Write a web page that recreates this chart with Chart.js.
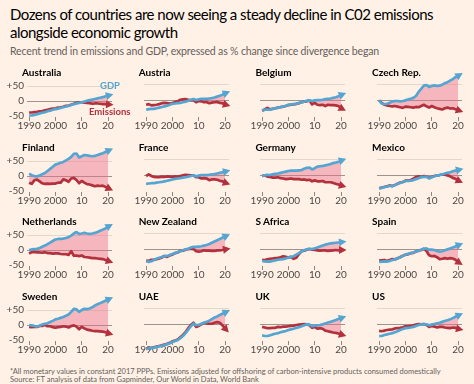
<!DOCTYPE html>
<html>
<head>
<meta charset="utf-8">
<script src="https://cdn.jsdelivr.net/npm/chart.js@4.4.0/dist/chart.umd.min.js"></script>
<style>
  body { margin:0; width:474px; height:384px; background:#fff1e5; position:relative; overflow:hidden;
         font-family: Lato, "Liberation Sans", sans-serif; color:#33302e; }
  .title { position:absolute; left:10px; top:5px; font-size:15px; line-height:18px; color:#000; letter-spacing:-0.5px; }
  .sub { position:absolute; left:10px; top:44.5px; font-size:10.5px; line-height:13px; color:#66605c; letter-spacing:-0.15px; }
  .panel { position:absolute; width:117px; height:75px; }
  .panel canvas { position:absolute; left:0; top:0; }
  .name { position:absolute; left:22px; top:4px; font-size:10px; font-weight:bold; line-height:12px; color:#000; white-space:nowrap; }
  .lab { position:absolute; font-size:9.5px; font-weight:bold; line-height:11px; white-space:nowrap; }
  .foot { position:absolute; left:10px; top:368px; font-size:7.5px; line-height:8px; color:#66605c; white-space:nowrap; }
</style>
</head>
<body>
<div class="title">Dozens of countries are now seeing a steady decline in C02 emissions<br>alongside economic growth</div>
<div class="sub">Recent trend in emissions and GDP, expressed as % change since divergence began</div>
<div id="grid"></div>
<div class="foot">*All monetary values in constant 2017 PPPs. Emissions adjusted for offshoring of carbon-intensive products consumed domestically<br>Source: FT analysis of data from Gapminder, Our World in Data, World Bank</div>
<script>
// anos 1990-2020
const years = [1990, 1991, 1992, 1993, 1994, 1995, 1996, 1997, 1998, 1999, 2000, 2001, 2002, 2003, 2004,
  2005, 2006, 2007, 2008, 2009, 2010, 2011, 2012, 2013, 2014, 2015, 2016, 2017, 2018, 2019, 2020];
const xTicks = [1990, 2000, 2010, 2020];
const xTickLabels = ["1990", "2000", "10", "20"];
const yTicks = [-50, 0, 50];
const yTickLabels = ["-50", "0", "+50"];

const countries = ["Australia", "Austria", "Belgium", "Czech Rep.", "Finland", "France", "Germany", "Mexico",
  "Netherlands", "New Zealand", "S Africa", "Spain", "Sweden", "UAE", "UK", "US"];

// % change, GDP
const ausGdp = [-48,-48,-46,-44,-41,-39,-37,-34,-32,-29,-27,-25,-23,-20,-18,-16,-13,-10,-8,-6,-4,-2,1,3,5,7,9,11,13,16,18];
const autGdp = [-30,-28,-27,-27,-25,-23,-21,-19,-17,-14,-11,-10,-9,-8,-6,-4,-1,2,4,1,3,5,5,5,6,7,9,12,15,18,22];
const belGdp = [-32,-30,-29,-30,-27,-25,-24,-21,-20,-17,-14,-13,-12,-11,-8,-6,-4,-1,0,-2,0,1,1,2,4,5,6,8,10,13,17];
const czeGdp = [0,-10,-12,-11,-8,-4,-2,-2,-3,-2,0,3,5,8,14,27,37,47,49,43,46,48,46,47,50,55,58,63,68,74,78];
const finGdp = [8,3,0,-1,2,6,10,17,24,31,38,41,44,47,52,57,64,74,75,62,66,70,69,67,66,67,70,73,76,80,84];
const fraGdp = [-27,-26,-25,-25,-23,-22,-21,-19,-17,-15,-13,-11,-10,-9,-7,-6,-4,-2,0,-3,-1,1,1,1,2,3,4,6,8,10,12];
const deuGdp = [-2,0,2,1,3,5,6,8,10,12,14,15,15,15,16,17,21,24,25,19,23,28,29,30,32,34,36,39,41,43,47];
const mexGdp = [-42,-40,-37,-36,-33,-35,-31,-27,-24,-21,-18,-18,-17,-15,-12,-9,-6,-5,-4,-10,-6,-3,0,1,3,6,8,10,13,15,17];
const nldGdp = [0,2,3,4,7,11,15,20,25,30,35,37,37,38,40,43,48,55,60,54,55,57,55,54,55,57,60,64,68,72,78];
const nzlGdp = [-38,-40,-38,-34,-30,-27,-24,-22,-21,-18,-15,-12,-9,-6,-3,0,2,6,8,8,9,10,12,14,17,21,25,29,33,37,41];
const zafGdp = [-37,-38,-39,-39,-37,-35,-33,-32,-31,-29,-26,-24,-22,-17,-12,-7,-3,0,2,1,3,6,9,12,15,17,19,20,21,22,23];
const espGdp = [-40,-39,-38,-39,-37,-34,-32,-29,-25,-21,-17,-14,-12,-10,-7,-4,-1,2,3,-1,-1,-2,-5,-7,-6,-3,0,3,6,9,13];
const sweGdp = [0,-1,-3,-5,-2,2,4,6,10,14,19,21,24,27,31,35,44,54,52,44,50,54,53,55,59,65,69,73,77,81,85];
const uaeGdp = [-78,-77,-75,-74,-72,-70,-68,-66,-63,-60,-56,-53,-50,-44,-37,-28,-17,-6,2,-2,-2,2,5,8,12,17,22,25,30,34,38];
const gbrGdp = [-35,-37,-37,-35,-32,-30,-28,-25,-23,-21,-18,-16,-14,-11,-9,-6,-3,0,-1,-6,-4,-3,-2,0,3,6,8,11,14,17,20];
const usaGdp = [-37,-37,-34,-32,-30,-28,-25,-22,-18,-15,-12,-11,-10,-8,-5,-2,0,1,0,-3,-1,1,3,5,8,11,13,16,20,24,28];

// % change, emissions
const ausEm = [-38,-38,-37,-36,-34,-33,-31,-29,-27,-25,-24,-22,-21,-19,-16,-15,-12,-9,-6,-4,-4,-5,-6,-7,-9,-8,-8,-9,-10,-10,-11];
const autEm = [-14,-12,-16,-15,-14,-12,-9,-8,-9,-10,-9,-5,-3,2,3,4,2,0,1,-6,-2,-3,-6,-5,-9,-7,-6,-5,-8,-9,-13];
const belEm = [-33,-29,-24,-28,-27,-25,-23,-22,-20,-18,-15,-14,-13,-11,-9,-6,-4,-3,0,-13,-8,-14,-15,-14,-18,-14,-15,-15,-16,-18,-25];
const czeEm = [0,-8,-14,-16,-18,-19,-18,-20,-22,-24,-20,-21,-22,-23,-21,-22,-18,-14,-19,-23,-18,-22,-25,-27,-29,-25,-23,-26,-25,-28,-31];
const finEm = [-22,-26,-14,-12,-18,-24,-26,-25,-26,-25,-25,-22,-22,-11,-14,-19,-8,-6,-13,-24,-16,-22,-27,-28,-31,-34,-32,-33,-32,-36,-40];
const fraEm = [-2,3,-2,-5,-6,-6,-4,-5,-3,-4,-5,-3,-4,-2,0,2,1,0,0,-6,-6,-10,-9,-10,-15,-13,-13,-14,-17,-19,-23];
const deuEm = [-2,0,-4,-5,-7,-7,-6,-9,-10,-12,-11,-10,-12,-12,-12,-14,-13,-15,-14,-19,-16,-19,-19,-18,-22,-22,-22,-24,-27,-29,-32];
const mexEm = [-41,-39,-37,-35,-32,-34,-31,-27,-23,-21,-17,-17,-15,-11,-5,-3,-5,-2,-3,-8,-5,-2,0,1,3,2,0,-3,-8,-11,-16];
const nldEm = [-12,-7,-6,-8,-8,-9,-7,-10,-10,-12,-11,-11,-13,-14,-14,-16,-4,-19,-18,-20,-18,-23,-24,-25,-27,-27,-28,-29,-30,-33,-36];
const nzlEm = [-36,-37,-33,-33,-31,-29,-26,-21,-24,-19,-17,-12,-10,-5,-4,-1,1,2,1,-6,-7,-6,-3,-4,-4,-5,-5,-3,-3,-2,0];
const zafEm = [-33,-34,-32,-30,-29,-28,-27,-25,-22,-24,-26,-24,-30,-27,-15,-6,-4,-1,1,-1,-2,-3,-4,-3,-3,-5,-4,-3,-2,-3,-2];
const espEm = [-36,-35,-34,-37,-34,-31,-32,-28,-25,-20,-17,-16,-12,-11,-7,-4,-2,2,-5,-19,-22,-21,-25,-31,-30,-28,-30,-28,-29,-33,-40];
const sweEm = [-6,-7,-6,-6,-3,-3,1,-4,-4,-7,-9,-7,-6,-4,-5,-8,-3,-1,-5,-14,-6,-11,-15,-17,-19,-20,-20,-21,-22,-24,-27];
const uaeEm = [-78,-76,-75,-73,-71,-69,-67,-64,-62,-59,-54,-52,-48,-41,-34,-25,-12,-2,5,-8,-5,0,5,3,2,2,5,7,5,-3,-13];
const gbrEm = [-8,-10,-12,-12,-11,-11,-8,-9,-7,-7,-6,-5,-4,-2,-1,0,1,0,-3,-11,-8,-14,-12,-14,-20,-22,-24,-26,-27,-29,-32];
const usaEm = [-21,-22,-20,-18,-17,-16,-13,-12,-11,-9,-6,-6,-5,-3,-1,1,0,1,-2,-8,-5,-7,-10,-8,-8,-10,-11,-12,-10,-11,-14];

const gdpSeries = [ausGdp, autGdp, belGdp, czeGdp, finGdp, fraGdp, deuGdp, mexGdp,
  nldGdp, nzlGdp, zafGdp, espGdp, sweGdp, uaeGdp, gbrGdp, usaGdp];
const emSeries = [ausEm, autEm, belEm, czeEm, finEm, fraEm, deuEm, mexEm,
  nldEm, nzlEm, zafEm, espEm, sweEm, uaeEm, gbrEm, usaEm];

const azul = "#55a5d2";
const vermelho = "#b3303d";
const rosa = "rgba(234, 110, 140, 0.45)";
const fonte = "Lato, 'Liberation Sans', sans-serif";

// seta no fim de cada linha
const arrowPlugin = {
  id: "arrows",
  afterDatasetsDraw(chart) {
    const ctx = chart.ctx;
    for (let i = chart.data.datasets.length - 1; i >= 0; i--) {
      const ds = chart.data.datasets[i];
      const pts = chart.getDatasetMeta(i).data;
      const a = pts[pts.length - 3], b = pts[pts.length - 1];
      const ang = Math.atan2(b.y - a.y, b.x - a.x);
      const dx = Math.cos(ang), dy = Math.sin(ang);
      const tipx = b.x + dx * 5.5, tipy = b.y + dy * 5.5;
      const bx = b.x - dx * 2, by = b.y - dy * 2;
      ctx.save();
      ctx.fillStyle = ds.borderColor;
      ctx.beginPath();
      ctx.moveTo(tipx, tipy);
      ctx.lineTo(bx - dy * 4, by + dx * 4);
      ctx.lineTo(bx + dy * 4, by - dx * 4);
      ctx.closePath();
      ctx.fill();
      ctx.restore();
    }
  },
};

const grid = document.getElementById("grid");

countries.forEach((name, idx) => {
  const col = idx % 4;
  const row = Math.floor(idx / 4);

  const panel = document.createElement("div");
  panel.className = "panel";
  panel.style.left = col * 116.7 + "px";
  panel.style.top = 62 + row * 74.7 + "px";
  const canvas = document.createElement("canvas");
  canvas.width = 117;
  canvas.height = 75;
  panel.appendChild(canvas);
  const label = document.createElement("div");
  label.className = "name";
  label.textContent = name;
  panel.appendChild(label);
  grid.appendChild(panel);

  if (idx === 0) {
    const g = document.createElement("div");
    g.className = "lab";
    g.style.color = azul;
    g.style.left = "100px";
    g.style.top = "18px";
    g.textContent = "GDP";
    panel.appendChild(g);
    const e = document.createElement("div");
    e.className = "lab";
    e.style.color = vermelho;
    e.style.left = "89px";
    e.style.top = "44px";
    e.textContent = "Emissions";
    panel.appendChild(e);
  }

  new Chart(canvas.getContext("2d"), {
    type: "line",
    data: {
      datasets: [
        {
          label: "GDP",
          data: years.map((x, i) => ({ x, y: gdpSeries[idx][i] })),
          borderColor: azul,
          borderWidth: 2.7,
          fill: { target: 1, above: rosa, below: "rgba(0,0,0,0)" },
          clip: false,
        },
        {
          label: "Emissions",
          data: years.map((x, i) => ({ x, y: emSeries[idx][i] })),
          borderColor: vermelho,
          borderWidth: 2.7,
          fill: false,
          clip: false,
        },
      ],
    },
    options: {
      responsive: false,
      animation: false,
      layout: { padding: { top: 7, right: 5, left: 0, bottom: 0 } },
      elements: {
        point: { radius: 0 },
        line: { tension: 0, borderJoinStyle: "round" },
      },
      plugins: {
        legend: { display: false },
        tooltip: { enabled: false },
        filler: { drawTime: "beforeDatasetsDraw" },
      },
      scales: {
        x: {
          type: "linear",
          min: 1989.2,
          max: 2021.5,
          afterBuildTicks: (s) => { s.ticks = xTicks.map((v) => ({ value: v })); },
          afterFit: (s) => { s.height = 20; },
          border: { display: false },
          grid: { drawOnChartArea: false, drawTicks: true, tickLength: 4, color: "#8f8680" },
          ticks: {
            padding: 0,
            autoSkip: false,
            maxRotation: 0,
            minRotation: 0,
            color: "#4d4845",
            font: { size: 10, family: fonte, lineHeight: 1 },
            callback: (v) => xTickLabels[xTicks.indexOf(v)],
          },
        },
        y: {
          min: -53,
          max: 100,
          afterBuildTicks: (s) => { s.ticks = yTicks.map((v) => ({ value: v })); },
          afterFit: (s) => { s.width = 27; },
          border: { display: false },
          grid: {
            drawTicks: false,
            color: (c) => (c.tick.value === 0 ? "#9d948d" : c.tick.value === 50 ? "#e5d7ca" : "rgba(0,0,0,0)"),
          },
          ticks: {
            display: col === 0,
            padding: 3,
            color: "#4d4845",
            font: { size: 10, family: fonte },
            callback: (v) => yTickLabels[yTicks.indexOf(v)],
          },
        },
      },
    },
    plugins: [arrowPlugin],
  });
});
</script>
</body>
</html>
